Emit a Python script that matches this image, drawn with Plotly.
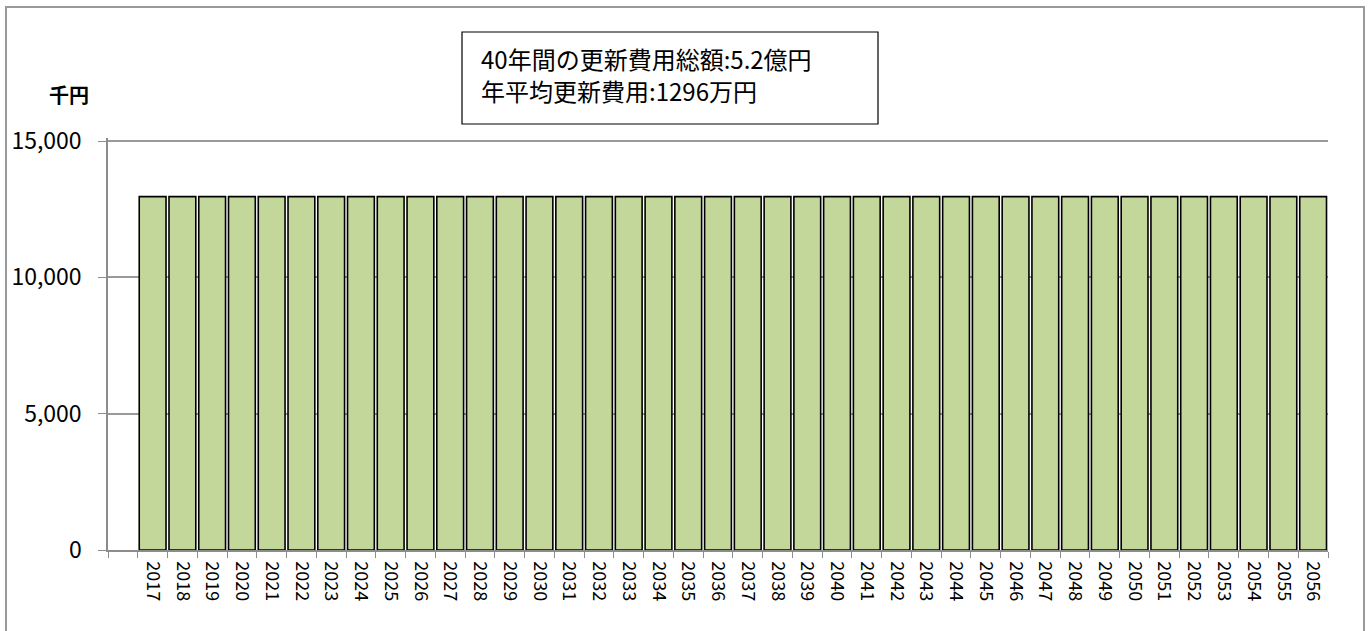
import plotly.graph_objects as go

# 更新費用 (千円) per year
years = [str(y) for y in range(2017, 2057)]
costs = [12960, 12960, 12960, 12960, 12960, 12960, 12960, 12960, 12960, 12960,
         12960, 12960, 12960, 12960, 12960, 12960, 12960, 12960, 12960, 12960,
         12960, 12960, 12960, 12960, 12960, 12960, 12960, 12960, 12960, 12960,
         12960, 12960, 12960, 12960, 12960, 12960, 12960, 12960, 12960, 12960]
y_ticks = [0, 5000, 10000, 15000]
y_ticklabels = ["0", "5,000", "10,000", "15,000"]
unit_label = "千円"
summary_lines = ["40年間の更新費用総額:5.2億円", "年平均更新費用:1296万円"]

# Excel leaves one empty category slot before the first year
cats = [" "] + years
vals = [None] + costs

FONT = "Noto Sans CJK JP, Liberation Sans, sans-serif"
W, H = 1371, 631
L, R, T, B = 108, 1371 - 1328, 138, 631 - 550
pw, ph = W - L - R, H - T - B


def px(x):
    return (x - L) / pw


def py(y):
    return (H - B - y) / ph


fig = go.Figure()
fig.add_trace(go.Bar(
    x=cats, y=vals,
    marker=dict(color="#c4d79b", line=dict(color="black", width=1.6)),
    showlegend=False,
))

fig.update_layout(
    width=W, height=H,
    margin=dict(l=L, r=R, t=T, b=B, autoexpand=False),
    paper_bgcolor="white", plot_bgcolor="white",
    bargap=0.1,
    font=dict(family=FONT, color="black"),
)
fig.update_xaxes(
    type="category", categoryorder="array", categoryarray=cats,
    tickangle=90, tickfont=dict(size=18), ticklabelstandoff=6, automargin=False,
    showline=True, linecolor="#8c8c8c", linewidth=1.5,
    ticks="outside", tickson="boundaries", ticklen=6, tickcolor="#8c8c8c",
    showgrid=False,
)
# top of range a little above 15,000 so the 15,000 gridline is kept
fig.update_yaxes(
    range=[0, 15110], tickvals=y_ticks, ticktext=y_ticklabels,
    tickfont=dict(size=23), ticklabelstandoff=12, automargin=False,
    showline=True, linecolor="#8c8c8c", linewidth=1.5,
    ticks="outside", ticklen=8, tickcolor="#8c8c8c",
    showgrid=True, gridcolor="#9a9a9a", gridwidth=1.5,
    zeroline=False,
)

# outer chart border
fig.add_shape(type="rect", xref="paper", yref="paper",
              x0=px(6), x1=px(1364), y0=py(640), y1=py(7),
              line=dict(color="#9a9a9a", width=2), layer="below")

# summary box
fig.add_shape(type="rect", xref="paper", yref="paper",
              x0=px(462), x1=px(878), y0=py(124), y1=py(32),
              line=dict(color="black", width=1.2), fillcolor="white")
for line, yc in zip(summary_lines, [58, 91]):
    fig.add_annotation(text=line, xref="paper", yref="paper",
                       x=px(479), y=py(yc), xanchor="left", yanchor="middle",
                       align="left", showarrow=False,
                       font=dict(size=24, family=FONT))

fig.add_annotation(text="<b>" + unit_label + "</b>", xref="paper", yref="paper",
                   x=px(69), y=py(95), xanchor="center", yanchor="middle",
                   showarrow=False, font=dict(size=20, family=FONT))

# drop the default page margin so the figure sits at the top-left corner
fig.write_html("out.html", config={"displayModeBar": False},
               post_script="document.body.style.margin='0px';")
